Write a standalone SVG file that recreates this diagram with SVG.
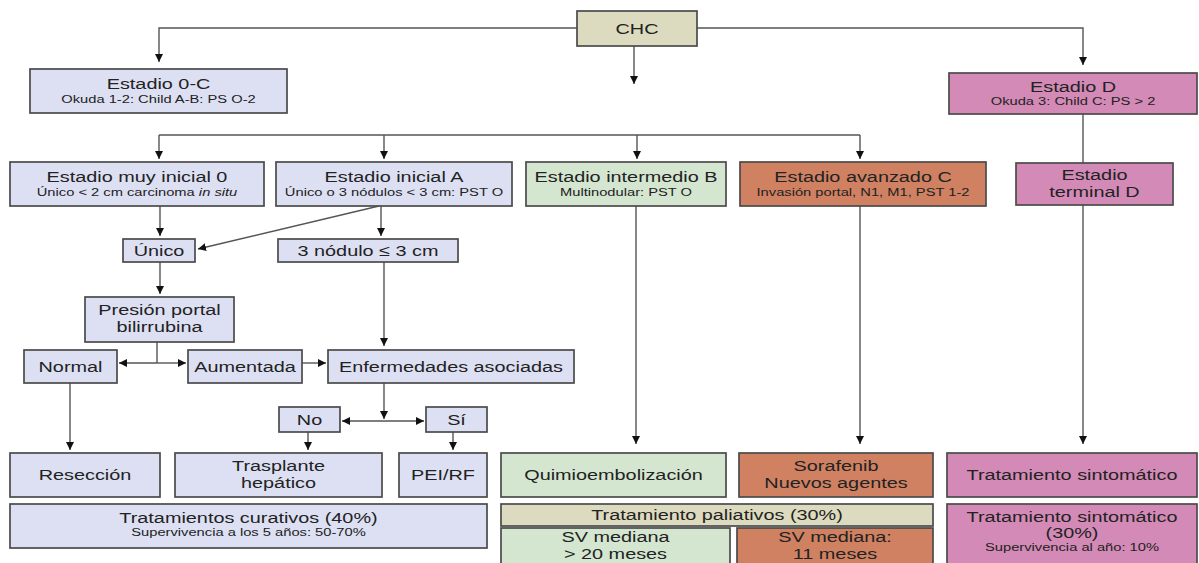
<svg xmlns="http://www.w3.org/2000/svg" width="1199" height="563" viewBox="0 0 1199 563">
<defs>
<marker id="ah" markerUnits="userSpaceOnUse" markerWidth="10" markerHeight="10" refX="8" refY="4" orient="auto">
<path d="M0,0 L8,4 L0,8 Z" fill="#111"/>
</marker>
<style>
.b{stroke:#4a4a4a;stroke-width:1.7}
.lav{fill:#dde0f3}.kh{fill:#dcdbbf}.gr{fill:#d4e6d0}.or{fill:#cf8162}.pk{fill:#d38ab6}
text{font-family:"Liberation Sans",Arial,sans-serif;fill:#222;text-anchor:middle}
.t{font-size:15.5px}
.s{font-size:11.5px}
.c{fill:none;stroke:#555;stroke-width:1.4}
.a{marker-end:url(#ah)}
</style>
</defs>
<rect width="1199" height="563" fill="#fff"/>
<g id="connectors">
<polyline class="c a" points="577,28 159,28 159,62"/>
<polyline class="c a" points="697,28 1083,28 1083,65"/>
<line class="c a" x1="634" y1="46" x2="634" y2="84"/>
<line class="c" x1="159" y1="135" x2="860" y2="135"/>
<line class="c a" x1="159" y1="135" x2="159" y2="159"/>
<line class="c a" x1="384" y1="135" x2="384" y2="159"/>
<line class="c a" x1="637" y1="135" x2="637" y2="159"/>
<line class="c a" x1="860" y1="135" x2="860" y2="159"/>
<line class="c a" x1="160" y1="205" x2="160" y2="236"/>
<line class="c a" x1="379" y1="206" x2="198" y2="249"/>
<line class="c a" x1="381" y1="206" x2="381" y2="236"/>
<line class="c a" x1="160" y1="262" x2="160" y2="294"/>
<line class="c" x1="157" y1="342" x2="157" y2="363"/>
<line class="c a" x1="157" y1="363" x2="119" y2="363"/>
<line class="c a" x1="157" y1="363" x2="186" y2="363"/>
<line class="c a" x1="302" y1="363" x2="326" y2="363"/>
<line class="c a" x1="384" y1="262" x2="384" y2="346"/>
<line class="c a" x1="384" y1="383" x2="384" y2="419"/>
<line class="c a" x1="384" y1="421" x2="342" y2="421"/>
<line class="c a" x1="384" y1="421" x2="424" y2="421"/>
<line class="c a" x1="70" y1="383" x2="70" y2="450"/>
<line class="c a" x1="308" y1="432" x2="308" y2="450"/>
<line class="c a" x1="453" y1="432" x2="453" y2="450"/>
<line class="c a" x1="636" y1="206" x2="636" y2="444"/>
<line class="c a" x1="860" y1="206" x2="860" y2="444"/>
<line class="c" x1="1083" y1="114" x2="1083" y2="163"/>
<line class="c a" x1="1083" y1="205" x2="1083" y2="444"/>
</g>
<g id="chc"><rect class="b kh" x="577" y="11" width="120" height="35"/><text class="t" transform="translate(637,34) scale(1.28,1)">CHC</text></g>
<g id="estadio0c"><rect class="b lav" x="30" y="69" width="257" height="44"/><text class="t" transform="translate(158.5,89) scale(1.28,1)">Estadio 0-C</text><text class="s" transform="translate(158.5,103) scale(1.28,1)">Okuda 1-2: Child A-B: PS O-2</text></g>
<g id="estadioD"><rect class="b pk" x="949" y="73" width="248" height="41"/><text class="t" transform="translate(1073,92) scale(1.28,1)">Estadio D</text><text class="s" transform="translate(1073,105) scale(1.28,1)">Okuda 3: Child C: PS &gt; 2</text></g>
<g id="muyinicial"><rect class="b lav" x="10" y="162" width="254" height="44"/><text class="t" transform="translate(137,182) scale(1.28,1)">Estadio muy inicial 0</text><text class="s" transform="translate(137,196) scale(1.28,1)">Único &lt; 2 cm carcinoma <tspan font-style="italic">in situ</tspan></text></g>
<g id="inicialA"><rect class="b lav" x="276" y="162" width="236" height="44"/><text class="t" transform="translate(394,182) scale(1.28,1)">Estadio inicial A</text><text class="s" transform="translate(394,196) scale(1.28,1)">Único o 3 nódulos &lt; 3 cm: PST O</text></g>
<g id="intermedioB"><rect class="b gr" x="526" y="162" width="200" height="44"/><text class="t" transform="translate(626,182) scale(1.28,1)">Estadio intermedio B</text><text class="s" transform="translate(626,196) scale(1.28,1)">Multinodular: PST O</text></g>
<g id="avanzadoC"><rect class="b or" x="740" y="162" width="246" height="44"/><text class="t" transform="translate(863,182) scale(1.28,1)">Estadio avanzado C</text><text class="s" transform="translate(863,196) scale(1.28,1)">Invasión portal, N1, M1, PST 1-2</text></g>
<g id="terminalD"><rect class="b pk" x="1016" y="163" width="157" height="42"/><text class="t" transform="translate(1094.5,180) scale(1.28,1)">Estadio</text><text class="t" transform="translate(1094.5,197) scale(1.28,1)">terminal D</text></g>
<g id="unico"><rect class="b lav" x="123" y="239" width="72" height="23"/><text class="t" transform="translate(159,256) scale(1.28,1)">Único</text></g>
<g id="tresnodulo"><rect class="b lav" x="278" y="239" width="180" height="23"/><text class="t" transform="translate(368,256) scale(1.28,1)">3 nódulo ≤ 3 cm</text></g>
<g id="presion"><rect class="b lav" x="85" y="297" width="149" height="45"/><text class="t" transform="translate(159.5,315) scale(1.28,1)">Presión portal</text><text class="t" transform="translate(159.5,332) scale(1.28,1)">bilirrubina</text></g>
<g id="normal"><rect class="b lav" x="24" y="350" width="93" height="33"/><text class="t" transform="translate(70.5,372) scale(1.28,1)">Normal</text></g>
<g id="aumentada"><rect class="b lav" x="188" y="350" width="114" height="33"/><text class="t" transform="translate(245,372) scale(1.28,1)">Aumentada</text></g>
<g id="enfermedades"><rect class="b lav" x="328" y="350" width="246" height="33"/><text class="t" transform="translate(451,372) scale(1.28,1)">Enfermedades asociadas</text></g>
<g id="no"><rect class="b lav" x="279" y="407" width="61" height="25"/><text class="t" transform="translate(309.5,425) scale(1.28,1)">No</text></g>
<g id="si"><rect class="b lav" x="426" y="407" width="61" height="25"/><text class="t" transform="translate(456.5,425) scale(1.28,1)">Sí</text></g>
<g id="reseccion"><rect class="b lav" x="10" y="453" width="150" height="44"/><text class="t" transform="translate(85,480) scale(1.28,1)">Resección</text></g>
<g id="trasplante"><rect class="b lav" x="175" y="453" width="207" height="44"/><text class="t" transform="translate(278.5,471) scale(1.28,1)">Trasplante</text><text class="t" transform="translate(278.5,488) scale(1.28,1)">hepático</text></g>
<g id="peirf"><rect class="b lav" x="399" y="453" width="88" height="44"/><text class="t" transform="translate(443,480) scale(1.28,1)">PEI/RF</text></g>
<g id="curativos"><rect class="b lav" x="10" y="504" width="477" height="44"/><text class="t" transform="translate(248.5,523) scale(1.28,1)">Tratamientos curativos (40%)</text><text class="s" transform="translate(248.5,536) scale(1.28,1)">Supervivencia a los 5 años: 50-70%</text></g>
<g id="quimio"><rect class="b gr" x="501" y="453" width="225" height="44"/><text class="t" transform="translate(613.5,480) scale(1.28,1)">Quimioembolización</text></g>
<g id="sorafenib"><rect class="b or" x="739" y="453" width="194" height="44"/><text class="t" transform="translate(836,471) scale(1.28,1)">Sorafenib</text><text class="t" transform="translate(836,488) scale(1.28,1)">Nuevos agentes</text></g>
<g id="sintomatico"><rect class="b pk" x="947" y="453" width="250" height="44"/><text class="t" transform="translate(1072,480) scale(1.28,1)">Tratamiento sintomático</text></g>
<g id="paliativos"><rect class="b kh" x="501" y="504" width="432" height="22"/><text class="t" transform="translate(717,520) scale(1.28,1)">Tratamiento paliativos (30%)</text></g>
<g id="svB"><rect class="b gr" x="501" y="528" width="229" height="40"/><text class="t" transform="translate(615.5,542) scale(1.28,1)">SV mediana</text><text class="t" transform="translate(615.5,559) scale(1.28,1)">&gt; 20 meses</text></g>
<g id="svC"><rect class="b or" x="737" y="528" width="196" height="40"/><text class="t" transform="translate(835,542) scale(1.28,1)">SV mediana:</text><text class="t" transform="translate(835,559) scale(1.28,1)">11 meses</text></g>
<g id="sintomatico30"><rect class="b pk" x="947" y="504" width="250" height="64"/><text class="t" transform="translate(1072,522) scale(1.28,1)">Tratamiento sintomático</text><text class="t" transform="translate(1072,538) scale(1.28,1)">(30%)</text><text class="s" transform="translate(1072,551) scale(1.28,1)">Supervivencia al año: 10%</text></g>
</svg>
